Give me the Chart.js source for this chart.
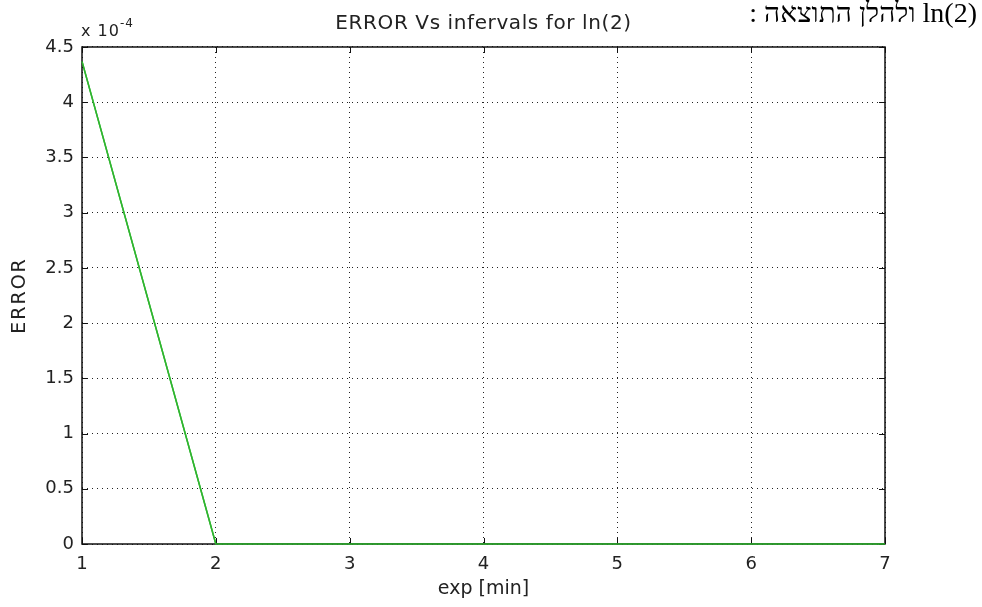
<!DOCTYPE html>
<html>
<head>
<meta charset="utf-8">
<script src="https://cdn.jsdelivr.net/npm/chart.js@4"></script>
<style>
  body { margin: 0; background: #fff; }
  #wrap { position: relative; width: 982px; height: 607px; }
  #note {
    position: absolute; right: 5px; top: -3px;
    font-family: "Liberation Serif", "DejaVu Serif", serif; font-size: 28px; color: #000;
    direction: rtl; white-space: nowrap;
  }
  #expo {
    position: absolute; left: 81px; top: 19px;
    font-family: "DejaVu Sans", sans-serif; font-size: 16px; color: #222; letter-spacing: 1px;
  }
  #expo sup { font-size: 12px; position: relative; top: -3px; }
</style>
</head>
<body>
<div id="wrap">
  <canvas id="errorGraph" width="982" height="607"></canvas>
  <div id="note" dir="rtl">ln(2) ולהלן התוצאה :</div>
  <div id="expo">x 10<sup>-4</sup></div>
</div>
<script>
// data (error values, the axis shows them in units of 1e-4)
const intervals = [1, 2, 3, 4, 5, 6, 7];
const errorValues = [4.37e-4, 0, 0, 0, 0, 0, 0];
const yTicks = [0, 0.5, 1, 1.5, 2, 2.5, 3, 3.5, 4, 4.5];

const textFont = { family: 'DejaVu Sans', size: 18 };

// MATLAB-style inward tick marks on all four sides, title and y label
const matlabAxes = {
    id: 'matlabAxes',
    afterDraw(chart) {
        const ctx = chart.ctx;
        const a = chart.chartArea;
        const xs = chart.scales.x, ys = chart.scales.y;
        ctx.save();
        ctx.strokeStyle = '#111';
        ctx.lineWidth = 1;
        ctx.beginPath();
        intervals.forEach(function (v) {
            const px = Math.round(xs.getPixelForValue(v)) + 0.5;
            ctx.moveTo(px, a.bottom); ctx.lineTo(px, a.bottom - 6);
            ctx.moveTo(px, a.top); ctx.lineTo(px, a.top + 6);
        });
        yTicks.forEach(function (v) {
            const py = Math.round(ys.getPixelForValue(v * 1e-4)) + 0.5;
            ctx.moveTo(a.left, py); ctx.lineTo(a.left + 6, py);
            ctx.moveTo(a.right, py); ctx.lineTo(a.right - 6, py);
        });
        ctx.stroke();
        // box
        ctx.lineWidth = 1.5;
        ctx.strokeRect(a.left, a.top, a.right - a.left, a.bottom - a.top);
        // redraw the line on top of the axis box
        const meta = chart.getDatasetMeta(0);
        ctx.strokeStyle = '#2fb52f';
        ctx.lineWidth = 1.5;
        ctx.beginPath();
        meta.data.forEach(function (p, i) {
            if (i === 0) ctx.moveTo(p.x, p.y); else ctx.lineTo(p.x, p.y);
        });
        ctx.stroke();
        // title
        ctx.fillStyle = '#222';
        ctx.font = '20px "DejaVu Sans"';
        ctx.letterSpacing = '0.6px';
        ctx.textAlign = 'center';
        ctx.textBaseline = 'alphabetic';
        ctx.fillText('ERROR Vs infervals for ln(2)', (a.left + a.right) / 2, 29);
        // y label, rotated
        ctx.font = '19px "DejaVu Sans"';
        ctx.letterSpacing = '2px';
        ctx.translate(25, (a.top + a.bottom) / 2);
        ctx.rotate(-Math.PI / 2);
        ctx.fillText('ERROR', 0, 0);
        ctx.restore();
    }
};

var ctxError = document.getElementById('errorGraph').getContext('2d');
var errorGraph = new Chart(ctxError, {
    type: 'line',
    data: {
        datasets: [{
            label: 'ERROR',
            data: intervals.map(function (x, i) { return { x: x, y: errorValues[i] }; }),
            borderColor: '#2fb52f',
            borderWidth: 1.5,
            pointRadius: 0,
            fill: false,
            tension: 0
        }]
    },
    options: {
        responsive: false,
        animation: false,
        layout: { padding: { top: 47, right: 97, left: 0, bottom: 0 } },
        plugins: { legend: { display: false }, tooltip: { enabled: false } },
        scales: {
            x: {
                type: 'linear',
                min: 1,
                max: 7,
                afterFit: function (s) { s.height = 63; },
                afterBuildTicks: function (s) { s.ticks = intervals.map(function (v) { return { value: v }; }); },
                grid: { color: '#222', drawTicks: false, lineWidth: 1 },
                border: { display: false, dash: [1, 4] },
                ticks: { color: '#222', font: textFont, padding: 10, maxRotation: 0 },
                title: { display: true, text: 'exp [min]', color: '#222', font: { family: 'DejaVu Sans', size: 19 }, padding: { top: 4, bottom: 7 } }
            },
            y: {
                min: 0,
                max: 4.5e-4,
                afterFit: function (s) { s.width = 82; },
                afterBuildTicks: function (s) { s.ticks = yTicks.map(function (v) { return { value: v * 1e-4 }; }); },
                grid: { color: '#222', drawTicks: false, lineWidth: 1 },
                border: { display: false, dash: [1, 4] },
                ticks: {
                    color: '#222', font: textFont, padding: 8,
                    callback: function (v) { return String(Math.round(v * 1e5) / 10); }
                }
            }
        }
    },
    plugins: [matlabAxes]
});
</script>
</body>
</html>
